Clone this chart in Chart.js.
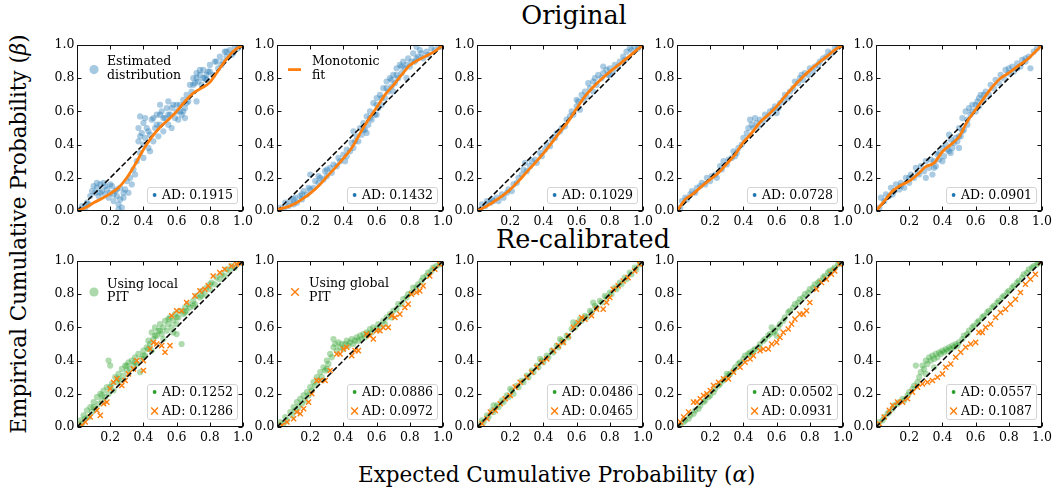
<!DOCTYPE html>
<html>
<head>
<meta charset="utf-8">
<script src="https://cdn.jsdelivr.net/npm/chart.js@4.4.0/dist/chart.umd.min.js"></script>
<style>
  body { margin: 0; background: #fff; width: 1056px; height: 491px; overflow: hidden; position: relative; font-family: 'DejaVu Serif', serif; }
  canvas { position: absolute; }
  .lbl { position: absolute; white-space: nowrap; color: #000; line-height: 1; }
</style>
</head>
<body>
<div class="lbl" style="font-size:25.5px; left:574px; top:3px; transform:translateX(-50%);">Original</div>
<div class="lbl" style="font-size:25.5px; left:583px; top:227px; transform:translateX(-50%);">Re-calibrated</div>
<div class="lbl" style="font-size:21.5px; left:358px; top:464px;">Expected Cumulative Probability (<i>α</i>)</div>
<div class="lbl" style="font-size:21.5px; left:18.6px; top:234px; transform:translate(-50%,-50%) rotate(-90deg);">Empirical Cumulative Probability (<i>β</i>)</div>

<script>
// ---- data ----
const diagonal = [[0, 0], [1, 1]];
const tickValues = [0, 0.2, 0.4, 0.6, 0.8, 1.0];

const adOriginal = ['0.1915', '0.1432', '0.1029', '0.0728', '0.0901'];
const adLocal = ['0.1252', '0.0886', '0.0486', '0.0502', '0.0557'];
const adGlobal = ['0.1286', '0.0972', '0.0465', '0.0931', '0.1087'];

// estimated distribution (blue clouds), top row
const origPts1 = [[.02,.01],[.03,.03],[.05,.02],[.06,.05],[.07,.04],[.08,.09],[.09,.12],[.1,.15],[.11,.11],[.12,.14],[.13,.09],[.14,.16],[.15,.12],[.16,.17],[.17,.1],[.18,.13],[.19,.08],[.2,.11],[.21,.15],[.22,.06],[.23,.12],[.24,.09],[.25,.04],[.26,.14],[.27,.02],[.28,.08],[.29,.13],[.3,.18],[.31,.11],[.32,.2],[.33,.16],[.34,.25],[.35,.22],[.36,.3],[.37,.5],[.37,.42],[.38,.57],[.38,.35],[.39,.47],[.4,.53],[.4,.4],[.41,.44],[.42,.5],[.43,.38],[.44,.46],[.45,.55],[.46,.42],[.47,.5],[.48,.58],[.49,.45],[.5,.52],[.51,.6],[.52,.48],[.53,.56],[.54,.62],[.55,.52],[.56,.58],[.57,.5],[.58,.64],[.59,.56],[.6,.6],[.61,.55],[.62,.64],[.63,.58],[.64,.67],[.65,.62],[.66,.7],[.67,.66],[.68,.76],[.69,.72],[.7,.8],[.71,.77],[.72,.83],[.73,.78],[.74,.82],[.75,.76],[.76,.85],[.77,.8],[.78,.79],[.79,.84],[.8,.88],[.82,.82],[.83,.9],[.85,.86],[.86,.93],[.88,.9],[.89,.96],[.9,.93],[.92,.97],[.94,.95],[.95,.99],[.97,.98],[.99,1],[.55,.66],[.5,.64],[.72,.66],[.65,.56],[.44,.36],[.4,.32],[.25,.01],
  [.12,.17],[.14,.11],[.17,.15],[.2,.16],[.22,.1],[.24,.13],[.26,.07],[.28,.11],[.38,.45],[.41,.56],[.43,.48],[.46,.56],[.48,.52],[.5,.58],[.52,.56],[.55,.58],[.57,.62],[.6,.64],[.62,.6],[.64,.6],[.66,.65],[.7,.76],[.72,.8],[.74,.85],[.76,.8],[.78,.82],[.8,.84],[.84,.9],[.87,.88],[.9,.96],[.93,.94]];
const origPts2 = [[.02,.02],[.04,.01],[.05,.05],[.07,.03],[.08,.06],[.1,.04],[.11,.08],[.12,.05],[.14,.09],[.15,.07],[.16,.12],[.18,.1],[.19,.14],[.2,.13],[.2,.22],[.22,.14],[.23,.18],[.25,.17],[.26,.2],[.28,.19],[.29,.24],[.3,.21],[.32,.26],[.33,.23],[.34,.28],[.36,.27],[.37,.32],[.38,.3],[.4,.34],[.41,.3],[.42,.37],[.44,.36],[.45,.41],[.46,.38],[.48,.45],[.49,.42],[.5,.5],[.51,.46],[.52,.53],[.53,.49],[.54,.57],[.55,.52],[.56,.6],[.57,.55],[.58,.65],[.59,.58],[.6,.68],[.61,.62],[.62,.7],[.63,.64],[.64,.74],[.65,.68],[.66,.78],[.67,.72],[.68,.8],[.69,.75],[.7,.82],[.71,.77],[.72,.86],[.73,.8],[.74,.88],[.75,.83],[.76,.9],[.77,.86],[.79,.92],[.8,.87],[.82,.95],[.83,.9],[.85,.93],[.86,.97],[.88,.92],[.9,.96],[.91,.94],[.93,.98],[.95,.97],[.97,1],[.99,.99],[.46,.48],[.54,.47],[.6,.58],[.7,.72],[.78,.8],[.84,.99],
  [.6,.64],[.63,.68],[.66,.74],[.69,.79],[.72,.82],[.75,.87],[.78,.88],[.81,.9],[.84,.92],[.87,.95],[.42,.33],[.47,.42],[.52,.49],[.56,.56],[.3,.25],[.25,.21],[.15,.1],[.1,.07]];
const origPts3 = [[.02,.01],[.03,.04],[.05,.03],[.06,.06],[.08,.05],[.09,.07],[.1,.06],[.12,.08],[.13,.06],[.15,.1],[.16,.08],[.18,.11],[.19,.13],[.21,.12],[.22,.16],[.24,.17],[.25,.2],[.27,.22],[.28,.25],[.29,.29],[.3,.24],[.32,.27],[.33,.3],[.35,.31],[.36,.29],[.38,.35],[.39,.33],[.41,.37],[.42,.4],[.44,.39],[.45,.43],[.47,.44],[.48,.47],[.5,.48],[.51,.5],[.53,.51],[.54,.55],[.56,.57],[.57,.6],[.58,.58],[.6,.63],[.61,.66],[.62,.61],[.63,.7],[.64,.67],[.65,.72],[.66,.69],[.67,.77],[.68,.74],[.7,.78],[.71,.8],[.72,.76],[.73,.82],[.75,.8],[.76,.83],[.78,.85],[.79,.82],[.8,.86],[.82,.84],[.83,.88],[.85,.87],[.86,.9],[.88,.93],[.89,.91],[.9,.96],[.92,.98],[.93,.97],[.95,.99],[.97,.98],[.99,1],[.6,.67],[.7,.72],[.8,.82],[.76,.87]];
const origPts4 = [[.02,.02],[.03,.06],[.05,.08],[.06,.07],[.08,.1],[.09,.12],[.11,.11],[.12,.14],[.14,.15],[.15,.17],[.17,.16],[.18,.2],[.2,.18],[.21,.21],[.23,.22],[.24,.2],[.26,.27],[.27,.25],[.28,.3],[.3,.28],[.31,.31],[.33,.32],[.34,.36],[.36,.35],[.37,.38],[.39,.4],[.4,.44],[.42,.47],[.43,.5],[.44,.55],[.45,.52],[.46,.5],[.48,.53],[.49,.51],[.5,.55],[.52,.54],[.53,.58],[.55,.57],[.56,.6],[.58,.61],[.59,.63],[.61,.62],[.62,.65],[.64,.67],[.65,.7],[.67,.68],[.68,.72],[.7,.74],[.71,.78],[.73,.77],[.74,.8],[.76,.79],[.77,.83],[.79,.82],[.8,.86],[.82,.84],[.83,.87],[.85,.88],[.86,.9],[.88,.92],[.9,.93],[.91,.96],[.93,.95],[.95,.98],[.97,.99],[.99,1],[.35,.33],[.47,.56],[.6,.59],[.75,.82]];
const origPts5 = [[.02,.02],[.03,.08],[.05,.06],[.06,.1],[.08,.09],[.09,.14],[.11,.12],[.12,.16],[.14,.13],[.15,.17],[.17,.14],[.18,.2],[.2,.17],[.21,.22],[.23,.2],[.24,.26],[.26,.22],[.27,.27],[.29,.24],[.3,.3],[.32,.26],[.33,.31],[.34,.22],[.35,.3],[.36,.27],[.37,.34],[.38,.31],[.4,.38],[.41,.33],[.42,.4],[.44,.36],[.45,.43],[.46,.38],[.48,.44],[.49,.42],[.5,.5],[.51,.45],[.52,.56],[.53,.49],[.54,.6],[.55,.52],[.56,.62],[.57,.58],[.58,.64],[.6,.6],[.61,.66],[.62,.63],[.63,.7],[.65,.67],[.66,.72],[.68,.7],[.69,.76],[.71,.74],[.72,.79],[.74,.77],[.75,.82],[.77,.8],[.78,.85],[.8,.83],[.82,.87],[.83,.84],[.85,.89],[.87,.87],[.88,.91],[.9,.9],[.92,.93],[.93,.86],[.95,.96],[.97,.98],[.99,1],[.44,.46],[.3,.2],[.5,.38],
  [.35,.26],[.38,.35],[.4,.3],[.43,.37],[.45,.35],[.47,.41],[.5,.45],[.52,.48],[.55,.55],[.58,.6],[.6,.64],[.62,.68],[.65,.7],[.2,.2],[.15,.15],[.1,.1],[.25,.23],[.8,.86],[.85,.86],[.9,.92]];

// monotonic fits (orange curves), top row
const fit1 = [[0,0],[.05,.02],[.1,.05],[.15,.075],[.2,.105],[.25,.14],[.3,.2],[.35,.28],[.4,.37],[.45,.445],[.5,.505],[.55,.55],[.6,.6],[.65,.66],[.7,.71],[.75,.74],[.8,.775],[.85,.845],[.9,.915],[.95,.97],[1,1]];
const fit2 = [[0,.01],[.05,.02],[.1,.04],[.15,.07],[.2,.106],[.25,.15],[.3,.206],[.35,.26],[.4,.317],[.45,.38],[.5,.467],[.55,.55],[.6,.623],[.65,.7],[.7,.757],[.75,.82],[.8,.878],[.85,.91],[.9,.935],[.95,.962],[1,1]];
const fit3 = [[0,0],[.05,.025],[.1,.056],[.15,.09],[.2,.13],[.25,.18],[.3,.236],[.35,.29],[.4,.347],[.45,.41],[.5,.477],[.55,.54],[.6,.617],[.65,.69],[.7,.747],[.75,.795],[.8,.838],[.85,.878],[.9,.918],[.95,.96],[1,1]];
const fit4 = [[0,0],[.05,.07],[.1,.106],[.15,.15],[.2,.19],[.25,.23],[.3,.285],[.35,.34],[.4,.415],[.45,.47],[.5,.535],[.55,.58],[.6,.63],[.65,.69],[.7,.747],[.75,.8],[.8,.847],[.85,.89],[.9,.928],[.95,.97],[1,1]];
const fit5 = [[0,0],[.05,.06],[.1,.12],[.15,.155],[.2,.18],[.25,.22],[.3,.267],[.35,.29],[.4,.357],[.45,.4],[.5,.447],[.55,.54],[.6,.611],[.65,.68],[.7,.747],[.75,.8],[.8,.832],[.85,.87],[.9,.904],[.95,.95],[1,1]];

// local PIT (green clouds), bottom row
const localPts1 = [[.01,.01],[.02,.04],[.03,.02],[.04,.07],[.05,.05],[.06,.1],[.07,.06],[.08,.12],[.09,.09],[.1,.15],[.11,.11],[.12,.18],[.13,.14],[.14,.2],[.15,.16],[.16,.22],[.17,.18],[.18,.24],[.19,.4],[.19,.2],[.2,.37],[.21,.26],[.22,.22],[.23,.3],[.24,.27],[.25,.32],[.26,.28],[.27,.35],[.28,.31],[.29,.37],[.3,.34],[.31,.39],[.32,.35],[.33,.4],[.34,.37],[.35,.42],[.36,.38],[.37,.44],[.38,.33],[.39,.41],[.4,.46],[.41,.43],[.42,.48],[.43,.52],[.44,.5],[.45,.57],[.46,.53],[.47,.6],[.48,.55],[.49,.58],[.5,.62],[.51,.56],[.52,.6],[.53,.64],[.54,.58],[.55,.62],[.56,.66],[.57,.6],[.58,.64],[.59,.68],[.6,.62],[.61,.66],[.62,.7],[.63,.5],[.64,.68],[.65,.72],[.66,.7],[.67,.74],[.68,.72],[.7,.76],[.71,.74],[.72,.79],[.74,.78],[.75,.82],[.77,.8],[.78,.84],[.8,.83],[.81,.87],[.83,.86],[.84,.9],[.86,.89],[.87,.92],[.89,.91],[.9,.95],[.92,.94],[.93,.97],[.95,.96],[.97,.99],[.99,.99],[.58,.57],[.45,.46],[.52,.53],[.6,.56],
  [.3,.37],[.35,.39],[.4,.43],[.43,.47],[.47,.55],[.5,.58],[.55,.65],[.6,.66],[.65,.69],[.7,.73],[.75,.79],[.8,.86],[.15,.19],[.1,.12],[.2,.24],[.25,.29]];
const localPts2 = [[.01,.01],[.02,.03],[.04,.02],[.05,.06],[.06,.04],[.08,.09],[.09,.07],[.1,.12],[.11,.1],[.12,.15],[.13,.12],[.14,.17],[.15,.14],[.16,.19],[.17,.16],[.18,.21],[.19,.19],[.2,.24],[.21,.22],[.22,.27],[.23,.25],[.24,.3],[.25,.28],[.26,.33],[.27,.3],[.28,.36],[.29,.34],[.3,.4],[.31,.38],[.32,.44],[.33,.42],[.34,.48],[.35,.5],[.36,.46],[.37,.51],[.38,.48],[.39,.5],[.4,.47],[.41,.5],[.42,.52],[.43,.49],[.44,.51],[.45,.53],[.46,.5],[.47,.52],[.48,.54],[.49,.52],[.5,.55],[.51,.53],[.52,.56],[.53,.54],[.54,.57],[.55,.56],[.56,.59],[.57,.57],[.58,.6],[.6,.59],[.61,.62],[.62,.6],[.64,.64],[.65,.62],[.66,.66],[.68,.68],[.69,.66],[.7,.7],[.72,.71],[.73,.74],[.75,.74],[.76,.77],[.78,.78],[.79,.8],[.81,.81],[.82,.84],[.84,.84],[.85,.86],[.87,.88],[.88,.9],[.9,.91],[.91,.93],[.93,.94],[.94,.96],[.96,.97],[.98,.98],[.99,1],[.34,.53],[.3,.35]];
const localPts3 = [[.01,.01],[.03,.04],[.04,.03],[.06,.07],[.07,.06],[.09,.1],[.1,.09],[.12,.13],[.13,.12],[.15,.16],[.16,.15],[.18,.19],[.19,.18],[.21,.22],[.22,.2],[.24,.25],[.25,.24],[.27,.28],[.28,.27],[.3,.31],[.31,.3],[.33,.34],[.34,.33],[.36,.37],[.37,.36],[.39,.4],[.4,.39],[.42,.43],[.43,.42],[.45,.46],[.46,.45],[.48,.49],[.49,.48],[.51,.52],[.52,.51],[.54,.55],[.55,.54],[.57,.59],[.58,.63],[.59,.6],[.6,.62],[.62,.65],[.63,.64],[.65,.67],[.66,.66],[.68,.7],[.69,.69],[.71,.73],[.72,.72],[.74,.76],[.75,.75],[.77,.79],[.78,.78],[.8,.81],[.81,.8],[.83,.84],[.84,.83],[.86,.87],[.87,.86],[.89,.9],[.9,.89],[.92,.93],[.93,.92],[.95,.96],[.96,.95],[.98,.98],[.99,1],[.1,.13],[.2,.23],[.38,.41],[.7,.75],[.5,.53]];
const localPts4 = [[.01,0],[.02,.01],[.04,.03],[.05,.04],[.07,.05],[.08,.07],[.1,.08],[.11,.1],[.13,.11],[.14,.13],[.16,.15],[.17,.16],[.19,.18],[.2,.19],[.22,.21],[.23,.23],[.25,.25],[.26,.26],[.28,.28],[.29,.29],[.31,.31],[.32,.32],[.34,.34],[.35,.36],[.37,.38],[.38,.39],[.4,.41],[.41,.43],[.43,.44],[.44,.45],[.46,.46],[.47,.47],[.49,.48],[.5,.5],[.52,.52],[.53,.53],[.55,.55],[.56,.56],[.58,.57],[.59,.58],[.61,.6],[.62,.62],[.64,.64],[.65,.66],[.67,.69],[.68,.7],[.7,.72],[.71,.74],[.73,.75],[.74,.77],[.76,.78],[.77,.8],[.79,.81],[.8,.83],[.82,.84],[.83,.86],[.85,.87],[.86,.88],[.88,.9],[.89,.91],[.91,.93],[.92,.94],[.94,.95],[.95,.96],[.97,.98],[.98,.99],[.99,1],[.57,.6],[.6,.55],[.45,.44],[.3,.32]];
const localPts5 = [[.01,.01],[.02,.03],[.04,.04],[.05,.06],[.07,.08],[.08,.09],[.1,.11],[.11,.13],[.13,.14],[.14,.15],[.16,.17],[.17,.16],[.19,.19],[.2,.21],[.22,.23],[.23,.25],[.25,.27],[.26,.3],[.27,.33],[.28,.37],[.29,.35],[.3,.4],[.31,.38],[.32,.42],[.33,.4],[.34,.43],[.35,.41],[.36,.44],[.37,.42],[.38,.45],[.39,.44],[.4,.46],[.41,.45],[.42,.47],[.43,.46],[.44,.48],[.45,.47],[.46,.49],[.47,.48],[.48,.5],[.49,.49],[.5,.51],[.52,.53],[.53,.55],[.55,.56],[.56,.58],[.58,.6],[.59,.61],[.61,.63],[.62,.64],[.64,.66],[.65,.67],[.67,.69],[.68,.7],[.7,.72],[.71,.73],[.73,.75],[.74,.76],[.76,.78],[.77,.79],[.79,.81],[.8,.82],[.82,.84],[.83,.85],[.85,.87],[.86,.88],[.88,.9],[.89,.92],[.91,.93],[.92,.95],[.94,.96],[.95,.97],[.97,.98],[.98,.99],[.99,1],[.24,.37],[.3,.32],[.35,.36]];

// global PIT (orange crosses), bottom row
const globalPts1 = [[.03,.01],[.05,.03],[.08,.06],[.12,.1],[.14,.07],[.16,.14],[.18,.15],[.2,.23],[.22,.27],[.24,.29],[.27,.25],[.29,.28],[.31,.32],[.34,.35],[.36,.4],[.4,.4],[.4,.34],[.44,.47],[.46,.51],[.48,.5],[.51,.49],[.53,.45],[.56,.49],[.57,.67],[.6,.7],[.63,.7],[.66,.75],[.71,.79],[.74,.82],[.77,.83],[.79,.85],[.82,.91],[.86,.93],[.89,.95],[.93,.97],[.96,.98],[.98,.99]];
const globalPts2 = [[.03,.01],[.06,.03],[.1,.05],[.12,.09],[.14,.08],[.16,.11],[.19,.15],[.21,.2],[.24,.28],[.26,.28],[.29,.28],[.32,.34],[.36,.44],[.38,.44],[.4,.47],[.42,.48],[.45,.43],[.47,.46],[.49,.46],[.54,.56],[.56,.55],[.58,.53],[.6,.58],[.62,.58],[.64,.6],[.67,.6],[.69,.67],[.71,.66],[.74,.68],[.77,.72],[.79,.74],[.81,.8],[.84,.81],[.86,.82],[.88,.85],[.92,.91],[.95,.95],[.98,.98]];
const globalPts3 = [[.03,.02],[.06,.05],[.08,.09],[.11,.1],[.14,.14],[.17,.17],[.2,.19],[.23,.24],[.26,.27],[.3,.3],[.33,.33],[.36,.36],[.39,.39],[.42,.41],[.46,.46],[.49,.49],[.52,.51],[.55,.55],[.58,.6],[.61,.63],[.63,.66],[.65,.65],[.69,.67],[.72,.71],[.76,.71],[.78,.75],[.8,.78],[.82,.83],[.85,.85],[.88,.88],[.91,.9],[.95,.94],[.98,.98]];
const globalPts4 = [[.02,.03],[.04,.06],[.07,.09],[.1,.15],[.12,.15],[.14,.17],[.16,.19],[.18,.2],[.2,.22],[.22,.25],[.25,.27],[.28,.29],[.31,.29],[.34,.33],[.38,.36],[.41,.39],[.44,.41],[.46,.43],[.5,.46],[.52,.47],[.55,.47],[.57,.5],[.6,.51],[.62,.54],[.64,.57],[.67,.59],[.69,.62],[.71,.65],[.74,.68],[.76,.68],[.78,.7],[.8,.75],[.84,.83],[.87,.87],[.9,.89],[.93,.92],[.95,.94],[.98,.98]];
const globalPts5 = [[.02,.02],[.05,.06],[.08,.1],[.1,.13],[.13,.15],[.16,.15],[.19,.17],[.22,.21],[.25,.24],[.28,.26],[.31,.27],[.34,.28],[.37,.3],[.4,.32],[.42,.36],[.45,.38],[.48,.42],[.51,.45],[.54,.48],[.57,.5],[.6,.51],[.62,.57],[.64,.57],[.66,.6],[.69,.62],[.72,.66],[.75,.69],[.78,.71],[.81,.74],[.84,.77],[.87,.81],[.9,.86],[.93,.89],[.96,.92],[.99,.99]];

// ---- layout ----
const colLeft = [77, 277, 477, 676.5, 876];
const rowTop = [44.5, 261];
const PW = 167, PH = 166.5;
const PAD_L = 40, PAD_T = 10, PAD_R = 12, PAD_B = 25;

const ORANGE = '#ff7f0e';
const FONT = "12.5px 'DejaVu Serif'";

const toXY = arr => arr.map(p => ({ x: p[0], y: p[1] }));

function drawMarker(ctx, kind, color, x, y, big) {
  ctx.save();
  if (kind === 'dot') {
    ctx.fillStyle = big ? color.replace('1)', '0.4)') : color;
    ctx.beginPath();
    ctx.arc(x, y, big ? 4.6 : 1.9, 0, Math.PI * 2);
    ctx.fill();
  } else if (kind === 'x') {
    const h = big ? 3.8 : 3.4;
    ctx.strokeStyle = color; ctx.lineWidth = 1.4;
    ctx.beginPath();
    ctx.moveTo(x - h, y - h); ctx.lineTo(x + h, y + h);
    ctx.moveTo(x - h, y + h); ctx.lineTo(x + h, y - h);
    ctx.stroke();
  } else if (kind === 'line') {
    ctx.strokeStyle = color; ctx.lineWidth = 2.8;
    ctx.beginPath(); ctx.moveTo(x - 6.5, y); ctx.lineTo(x + 6.5, y); ctx.stroke();
  }
  ctx.restore();
}

// frame + inward ticks on all four sides
const frameTicks = {
  id: 'frameTicks',
  afterDatasetsDraw(chart) {
    const { ctx, chartArea: a, scales: { x, y } } = chart;
    ctx.save();
    ctx.strokeStyle = '#111'; ctx.lineWidth = 1;
    const L = Math.round(a.left) + 0.5, R = Math.round(a.right) - 0.5;
    const T = Math.round(a.top) + 0.5, B = Math.round(a.bottom) - 0.5;
    ctx.strokeRect(L, T, R - L, B - T);
    ctx.beginPath();
    tickValues.forEach(v => {
      const px = Math.round(x.getPixelForValue(v)) + 0.5;
      ctx.moveTo(px, B); ctx.lineTo(px, B - 4);
      ctx.moveTo(px, T); ctx.lineTo(px, T + 4);
      const py = Math.round(y.getPixelForValue(v)) + 0.5;
      ctx.moveTo(L, py); ctx.lineTo(L + 4, py);
      ctx.moveTo(R, py); ctx.lineTo(R - 4, py);
    });
    ctx.stroke();
    ctx.restore();
  }
};

function makeLegend(cfg) {
  return {
    id: 'panelLegend',
    afterDraw(chart) {
      const { ctx, chartArea: a } = chart;
      ctx.save();
      ctx.font = FONT;
      ctx.textBaseline = 'middle';
      // upper-left legend, no frame
      if (cfg.top) {
        const t = cfg.top;
        drawMarker(ctx, t.kind, t.color, a.left + t.mx, a.top + t.my, true);
        ctx.fillStyle = '#000';
        t.lines.forEach((s, i) => ctx.fillText(s, a.left + t.tx, a.top + t.ly[i]));
      }
      // AD legend, lower right, framed
      const entries = cfg.ad;
      const tw = Math.max(...entries.map(e => ctx.measureText(e.text).width));
      const bw = 15 + tw + 4, bh = 16 + 19 * (entries.length - 1);
      const bx = a.right - 6 - bw, by = a.bottom - 8 - bh;
      ctx.beginPath();
      ctx.roundRect(Math.round(bx) + 0.5, Math.round(by) + 0.5, Math.round(bw), Math.round(bh), 2.5);
      ctx.fillStyle = 'rgba(255,255,255,0.8)';
      ctx.fill();
      ctx.strokeStyle = '#d4d4d4'; ctx.lineWidth = 1;
      ctx.stroke();
      entries.forEach((e, i) => {
        const cy = by + 8 + 19 * i;
        drawMarker(ctx, e.kind, e.color, bx + 7.5, cy, false);
        ctx.fillStyle = '#000';
        ctx.fillText(e.text, bx + 15, cy + 0.5);
      });
      ctx.restore();
    }
  };
}

function axisOpts(isX) {
  return {
    type: 'linear', min: 0, max: 1,
    grid: { display: false, drawTicks: false },
    border: { display: false },
    ticks: {
      stepSize: 0.2, autoSkip: false, maxRotation: 0, padding: isX ? 3 : 2.5,
      color: '#000', font: { family: 'DejaVu Serif', size: 12.5 },
      callback: v => (isX && v < 0.01) ? '' : Number(v).toFixed(1)
    },
    afterFit: s => { if (isX) s.height = PAD_B; else s.width = PAD_L; }
  };
}

function makePanel(row, col, datasets, legendCfg) {
  const c = document.createElement('canvas');
  const w = PAD_L + PW + PAD_R, h = PAD_T + PH + PAD_B;
  c.width = w; c.height = h;
  c.style.left = (colLeft[col] - PAD_L) + 'px';
  c.style.top = (rowTop[row] - PAD_T) + 'px';
  document.body.appendChild(c);
  new Chart(c, {
    type: 'scatter',
    data: { datasets },
    options: {
      responsive: false, animation: false, devicePixelRatio: 1,
      layout: { padding: { top: PAD_T, right: PAD_R, left: 0, bottom: 0 } },
      plugins: { legend: { display: false }, tooltip: { enabled: false } },
      scales: { x: axisOpts(true), y: axisOpts(false) }
    },
    plugins: [frameTicks, makeLegend(legendCfg)]
  });
}

const diagSet = order => ({
  data: toXY(diagonal), showLine: true, borderColor: '#000', borderWidth: 1.5,
  borderDash: [5.5, 2.4], pointRadius: 0, order
});

// top row: original
const origClouds = [origPts1, origPts2, origPts3, origPts4, origPts5];
const fits = [fit1, fit2, fit3, fit4, fit5];
origClouds.forEach((pts, i) => {
  const legend = {
    ad: [{ kind: 'dot', color: 'rgba(31,119,180,1)', text: 'AD: ' + adOriginal[i] }]
  };
  if (i === 0) legend.top = { kind: 'dot', color: 'rgba(31,119,180,1)', mx: 17, my: 24.6, tx: 30, lines: ['Estimated', 'distribution'], ly: [17.2, 30.5] };
  if (i === 1) legend.top = { kind: 'line', color: ORANGE, mx: 17.5, my: 24.6, tx: 35, lines: ['Monotonic', 'fit'], ly: [17.2, 30.5] };
  makePanel(0, i, [
    { data: toXY(fits[i]), showLine: true, borderColor: ORANGE, borderWidth: 2.8, pointRadius: 0, cubicInterpolationMode: 'monotone', order: 0 },
    diagSet(1),
    { data: toXY(pts), backgroundColor: 'rgba(31,119,180,0.38)', borderWidth: 0, pointRadius: 3.1, order: 2 }
  ], legend);
});

// bottom row: re-calibrated
const localClouds = [localPts1, localPts2, localPts3, localPts4, localPts5];
const globalSets = [globalPts1, globalPts2, globalPts3, globalPts4, globalPts5];
localClouds.forEach((pts, i) => {
  const legend = {
    ad: [
      { kind: 'dot', color: 'rgba(44,160,44,1)', text: 'AD: ' + adLocal[i] },
      { kind: 'x', color: ORANGE, text: 'AD: ' + adGlobal[i] }
    ]
  };
  if (i === 0) legend.top = { kind: 'dot', color: 'rgba(44,160,44,1)', mx: 17, my: 31, tx: 30, lines: ['Using local', 'PIT'], ly: [23.3, 37] };
  if (i === 1) legend.top = { kind: 'x', color: ORANGE, mx: 18, my: 31, tx: 32, lines: ['Using global', 'PIT'], ly: [22.5, 37] };
  makePanel(1, i, [
    diagSet(0),
    { data: toXY(globalSets[i]), pointStyle: 'crossRot', pointRadius: 3.6, borderColor: ORANGE, borderWidth: 1.4, backgroundColor: ORANGE, order: 1 },
    { data: toXY(pts), backgroundColor: 'rgba(44,160,44,0.38)', borderWidth: 0, pointRadius: 3.1, order: 2 }
  ], legend);
});
</script>
</body>
</html>
